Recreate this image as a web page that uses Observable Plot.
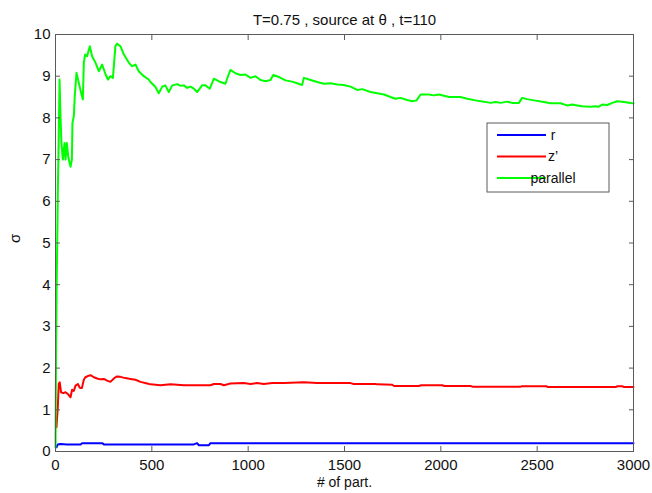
<!DOCTYPE html>
<html>
<head>
<meta charset="utf-8">
<script src="https://cdn.jsdelivr.net/npm/d3@7"></script>
<script src="https://cdn.jsdelivr.net/npm/@observablehq/plot@0.6"></script>
<style>
  html, body { margin: 0; padding: 0; background: #fff; }
  #chart { width: 652px; height: 493px; }
</style>
</head>
<body>
<div id="chart"></div>
<script>
// Spread sigma vs. number of particles, three components
const titleText = "T=0.75 , source at \u03b8 , t=110";
const xLabel = "# of part.";
const yLabel = "\u03c3";
const xTicks = [0, 500, 1000, 1500, 2000, 2500, 3000];
const yTicks = [0, 1, 2, 3, 4, 5, 6, 7, 8, 9, 10];
const seriesNames = ["r", "z\u2019", "parallel"];
const seriesColors = ["#0000ff", "#ff0000", "#00ff00"];

// r component
const rN = [5, 12, 26, 60, 130, 138, 242, 251, 718, 735, 744, 796, 804, 1500, 2200, 3000];
const rS = [0.10, 0.17, 0.18, 0.17, 0.17, 0.20, 0.20, 0.17, 0.17, 0.20, 0.15, 0.15, 0.20, 0.20, 0.20, 0.20];

// z' component
const zN = [5, 8, 12, 17, 22, 29, 40, 52, 64, 78, 86, 95, 104, 116, 126, 137, 147, 155, 173, 182, 199, 216, 233, 251, 268, 285, 303, 317, 337, 363, 389, 415, 441, 476,
  493, 545, 597, 666, 718, 804, 822, 856, 874, 908, 977, 1012, 1046, 1081, 1125, 1185, 1289, 1358, 1531, 1548, 1661, 1670, 1748, 1757, 1886, 1898, 2007, 2019, 2154, 2164, 2414, 2422, 2549, 2555, 2907, 2916, 2942, 2951, 3000];
const zS = [0.58, 0.80, 1.06, 1.63, 1.66, 1.42, 1.40, 1.42, 1.38, 1.30, 1.48, 1.45, 1.58, 1.62, 1.53, 1.52, 1.72, 1.78, 1.82, 1.83, 1.78, 1.75, 1.73, 1.74, 1.70, 1.67, 1.75, 1.80, 1.79, 1.76, 1.74, 1.72, 1.67, 1.63,
  1.61, 1.59, 1.61, 1.59, 1.59, 1.59, 1.62, 1.62, 1.59, 1.63, 1.64, 1.62, 1.64, 1.62, 1.64, 1.645, 1.66, 1.64, 1.64, 1.62, 1.62, 1.61, 1.60, 1.57, 1.57, 1.59, 1.59, 1.57, 1.57, 1.555, 1.555, 1.565, 1.565, 1.545, 1.545, 1.565, 1.565, 1.545, 1.545];

// parallel component
const pN = [0, 3, 6, 9, 12, 17, 21, 26, 31, 38, 47, 52, 59, 66, 78, 85, 88, 95, 100, 109, 121, 133, 142, 147, 154, 164, 178, 190, 208, 225, 242, 260, 272, 285, 298, 311, 320, 337, 355, 381, 398, 415, 432, 458, 484,
  493, 519, 536, 554, 570, 588, 606, 632, 649, 666, 683, 701, 718, 735, 761, 778, 801, 822, 856, 882, 894, 908, 934, 960, 986, 1012, 1038, 1064, 1090, 1116, 1130, 1160, 1194, 1228, 1254, 1280, 1289, 1324, 1358, 1393, 1428, 1462, 1496, 1531, 1566, 1592, 1635, 1670, 1705,
  1739, 1765, 1790, 1825, 1852, 1874, 1895, 1938, 1964, 1990, 2016, 2042, 2102, 2137, 2180, 2223, 2258, 2284, 2310, 2344, 2370, 2405, 2422, 2448, 2483, 2535, 2569, 2621, 2656, 2682, 2708, 2734, 2777, 2803, 2820, 2838, 2864, 2890, 2916, 2951, 2994, 3000];
const pS = [0.1, 2.5, 4.0, 4.99, 6.19, 7.6, 8.92, 8.04, 7.4, 7.0, 7.4, 7.0, 7.4, 7.07, 6.83, 7.0, 7.88, 8.04, 8.52, 9.08, 8.84, 8.6, 8.44, 9.32, 9.52, 9.48, 9.72, 9.48, 9.32, 9.12, 9.28, 9.04, 8.92, 9.0, 8.96, 9.72, 9.78, 9.72, 9.52, 9.32, 9.24, 9.28, 9.12, 9.0, 8.92,
  8.86, 8.74, 8.59, 8.75, 8.78, 8.62, 8.78, 8.81, 8.77, 8.78, 8.72, 8.75, 8.7, 8.62, 8.78, 8.78, 8.7, 8.94, 8.86, 8.82, 8.98, 9.15, 9.07, 9.03, 9.04, 8.96, 9.0, 8.91, 8.88, 8.91, 9.03, 8.98, 8.9, 8.87, 8.83, 8.79, 8.96, 8.91, 8.86, 8.82, 8.83, 8.80, 8.79, 8.75, 8.67, 8.69, 8.62, 8.59, 8.56,
  8.5, 8.46, 8.48, 8.43, 8.40, 8.42, 8.56, 8.56, 8.54, 8.56, 8.53, 8.5, 8.5, 8.46, 8.42, 8.39, 8.36, 8.38, 8.36, 8.39, 8.36, 8.36, 8.48, 8.45, 8.42, 8.38, 8.35, 8.35, 8.30, 8.32, 8.30, 8.28, 8.27, 8.28, 8.27, 8.32, 8.31, 8.36, 8.40, 8.38, 8.35, 8.35];

const toRows = (ns, ss) => ns.map((n, i) => ({n, s: ss[i]}));
const series = [toRows(rN, rS), toRows(zN, zS), toRows(pN, pS)];

const font = "'Liberation Sans', Arial, Helvetica, sans-serif";
const frameColor = "#5a5a5a";
const plain = d3.format("d");

const chart = Plot.plot({
  width: 652,
  height: 493,
  marginLeft: 55,
  marginRight: 19,
  marginTop: 34,
  marginBottom: 42,
  style: {fontFamily: font, fontSize: "15px", color: "#111", background: "#fff"},
  x: {domain: [0, 3000]},
  y: {domain: [0, 10]},
  marks: [
    ...series.map((rows, i) => Plot.line(rows, {x: "n", y: "s", stroke: seriesColors[i], strokeWidth: 2})),
    Plot.frame({stroke: frameColor, strokeWidth: 1}),
    Plot.axisX(xTicks, {anchor: "bottom", tickSize: -5, tickPadding: 13, tickFormat: plain, label: null, stroke: frameColor, fontSize: 15, fill: "#111"}),
    Plot.axisX(xTicks, {anchor: "top", tickSize: -5, tickFormat: () => "", label: null, stroke: frameColor}),
    Plot.axisY(yTicks, {anchor: "left", tickSize: -5, tickPadding: 10, tickFormat: plain, label: null, stroke: frameColor, fontSize: 15, fill: "#111"}),
    Plot.axisY(yTicks, {anchor: "right", tickSize: -5, tickFormat: () => "", label: null, stroke: frameColor}),
    Plot.text([titleText], {text: d => d, frameAnchor: "top", dy: -20, fontSize: 15, fill: "#111"}),
    Plot.text([xLabel], {text: d => d, frameAnchor: "bottom", dy: 35, fontSize: 14, fill: "#111"}),
    Plot.text([yLabel], {text: d => d, frameAnchor: "left", dx: -40, rotate: -90, fontSize: 15, fill: "#111"})
  ]
});

document.getElementById("chart").appendChild(chart);

// Boxed legend in the upper right of the axes
const svg = d3.select(chart);
const lg = svg.append("g").attr("transform", "translate(487,123)");
lg.append("rect").attr("width", 122).attr("height", 69).attr("fill", "#fff").attr("stroke", frameColor).attr("stroke-width", 1);
seriesNames.forEach((name, i) => {
  const cy = 12 + i * 21.5;
  lg.append("line").attr("x1", 10).attr("x2", 59).attr("y1", cy).attr("y2", cy)
    .attr("stroke", seriesColors[i]).attr("stroke-width", 2);
  lg.append("text").attr("x", 66).attr("y", cy).attr("dy", "0.35em")
    .attr("font-family", font).attr("font-size", 14).attr("fill", "#111").text(name);
});
</script>
</body>
</html>
